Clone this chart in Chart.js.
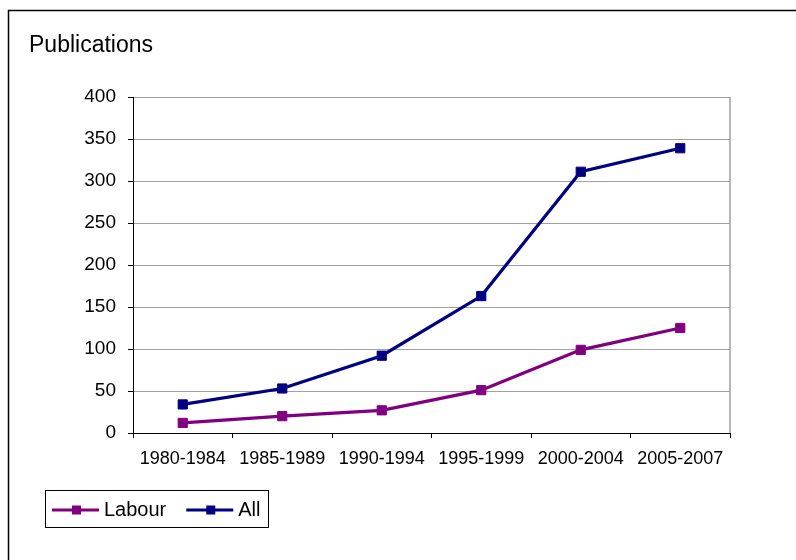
<!DOCTYPE html>
<html>
<head>
<meta charset="utf-8">
<script src="https://cdn.jsdelivr.net/npm/chart.js@4/dist/chart.umd.min.js"></script>
<style>
  body { margin: 0; background: #fff; }
  canvas { display: block; }
</style>
</head>
<body>
<canvas id="chart" width="796" height="560"></canvas>
<script>
const periods = ['1980-1984', '1985-1989', '1990-1994', '1995-1999', '2000-2004', '2005-2007'];
const labour = [12, 20, 27, 51, 99, 125];
const all = [34, 53, 92, 163, 311, 339];
const yTicks = [0, 50, 100, 150, 200, 250, 300, 350, 400];

const FONT = '"Liberation Sans", Arial, sans-serif';

// frame, heading, plot border and the boxed legend
const extras = {
  id: 'extras',
  afterDraw(chart) {
    const ctx = chart.ctx;
    const area = chart.chartArea;
    ctx.save();

    ctx.strokeStyle = '#000';
    ctx.lineWidth = 1.5;
    ctx.strokeRect(8.5, 10.5, 820, 600);

    ctx.fillStyle = '#000';
    ctx.font = '23px ' + FONT;
    ctx.textBaseline = 'alphabetic';
    ctx.fillText('Publications', 29, 52);

    ctx.strokeStyle = '#a0a0a0';
    ctx.lineWidth = 1.5;
    ctx.beginPath();
    ctx.moveTo(area.right, area.top);
    ctx.lineTo(area.right, area.bottom);
    ctx.stroke();

    ctx.strokeStyle = '#000';
    ctx.lineWidth = 1;
    ctx.strokeRect(45.5, 490.5, 223, 37);

    let x = 52;
    const y = 510;
    ctx.font = '20px ' + FONT;
    ctx.textBaseline = 'middle';
    chart.data.datasets.forEach(ds => {
      ctx.strokeStyle = ds.borderColor;
      ctx.lineWidth = 3;
      ctx.beginPath();
      ctx.moveTo(x, y);
      ctx.lineTo(x + 47, y);
      ctx.stroke();
      ctx.fillStyle = ds.borderColor;
      ctx.fillRect(x + 20, y - 4.5, 9, 9);
      ctx.fillStyle = '#000';
      ctx.fillText(ds.label, x + 52, y);
      x += 52 + ctx.measureText(ds.label).width + 20;
    });

    ctx.restore();
  }
};

new Chart(document.getElementById('chart'), {
  type: 'line',
  data: {
    labels: periods,
    datasets: [
      {
        label: 'Labour',
        data: labour,
        borderColor: '#800080',
        backgroundColor: '#800080',
        borderWidth: 3.2,
        pointStyle: 'rect',
        pointRadius: 6.5,
        pointBorderWidth: 1,
        tension: 0
      },
      {
        label: 'All',
        data: all,
        borderColor: '#000080',
        backgroundColor: '#000080',
        borderWidth: 3.2,
        pointStyle: 'rect',
        pointRadius: 6.5,
        pointBorderWidth: 1,
        tension: 0
      }
    ]
  },
  options: {
    responsive: false,
    animation: false,
    layout: {
      padding: { left: 0, top: 97, right: 66, bottom: 67 }
    },
    plugins: {
      legend: { display: false },
      tooltip: { enabled: false }
    },
    scales: {
      x: {
        offset: true,
        grid: {
          offset: true,
          drawOnChartArea: false,
          tickLength: 5,
          tickColor: '#000'
        },
        border: { color: '#000', width: 1 },
        ticks: {
          color: '#000',
          padding: 10,
          maxRotation: 0,
          font: { family: FONT, size: 18 }
        },
        afterFit: s => { s.height = 60; }
      },
      y: {
        min: 0,
        max: 400,
        afterBuildTicks: s => { s.ticks = yTicks.map(v => ({ value: v })); },
        grid: {
          color: '#a0a0a0',
          lineWidth: 1,
          tickLength: 5,
          tickColor: '#000'
        },
        border: { color: '#000', width: 1 },
        ticks: {
          color: '#000',
          padding: 12,
          font: { family: FONT, size: 19 }
        },
        afterFit: s => { s.width = 133; }
      }
    }
  },
  plugins: [extras]
});
</script>
</body>
</html>
